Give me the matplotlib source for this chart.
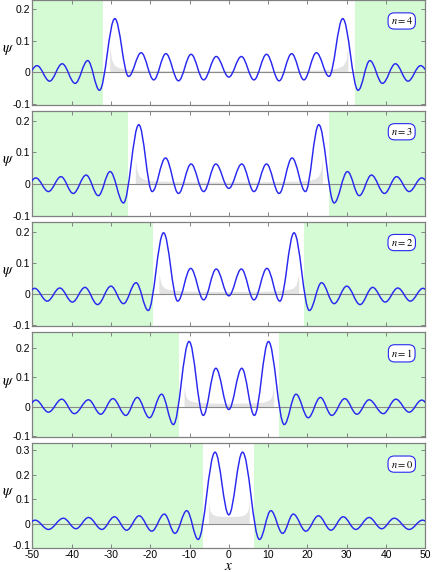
import numpy as np
import matplotlib.pyplot as plt
from matplotlib.path import Path
from matplotlib.patches import PathPatch
from matplotlib.transforms import ScaledTranslation

plt.rcParams['font.family'] = ['Liberation Sans', 'DejaVu Sans']
plt.rcParams['mathtext.fontset'] = 'stix'
plt.rcParams['axes.unicode_minus'] = False

# panels from top to bottom
n_labels = [4, 3, 2, 1, 0]
well_half = [32.0, 25.6, 19.2, 12.8, 6.5]
y_low = [-0.103, -0.100, -0.103, -0.104, -0.100]
y_high = [0.229, 0.231, 0.233, 0.252, 0.330]

# extrema of psi for x >= 0 (curve is even, mirrored for x < 0)
ext_x_n4 = [0, 3.2, 6.4, 9.6, 12.8, 16.0, 19.1, 22.3, 25.5, 29.0, 32.9, 35.9, 39.1, 42.4, 45.6, 48.8, 52.0]
ext_y_n4 = [-0.015, 0.050, -0.024, 0.057, -0.027, 0.059, -0.024, 0.062, -0.013, 0.170, -0.057, 0.037, -0.035, 0.027, -0.028, 0.021, -0.02]
ext_x_n3 = [0, 3.3, 6.4, 9.6, 12.8, 16.1, 19.5, 22.9, 26.8, 30.2, 33.2, 36.3, 39.6, 42.7, 45.9, 49.1, 52.3]
ext_y_n3 = [-0.014, 0.063, -0.024, 0.063, -0.030, 0.082, -0.024, 0.187, -0.060, 0.039, -0.037, 0.028, -0.030, 0.023, -0.024, 0.019, -0.02]
ext_x_n2 = [0, 3.2, 6.4, 9.7, 13.0, 16.6, 20.5, 23.6, 26.8, 30.0, 33.4, 36.6, 39.8, 43.0, 46.2, 49.4, 52.6]
ext_y_n2 = [-0.005, 0.081, -0.018, 0.083, -0.022, 0.197, -0.052, 0.037, -0.030, 0.026, -0.033, 0.022, -0.025, 0.020, -0.022, 0.019, -0.02]
ext_x_n1 = [0, 3.3, 6.5, 10.1, 14.1, 17.1, 20.2, 23.3, 26.2, 29.5, 32.6, 35.7, 39.3, 42.5, 45.9, 49.1, 52.3]
ext_y_n1 = [-0.010, 0.130, -0.030, 0.221, -0.061, 0.042, -0.038, 0.031, -0.030, 0.027, -0.026, 0.023, -0.024, 0.025, -0.019, 0.022, -0.02]
ext_x_n0 = [0, 3.5, 7.8, 10.7, 13.7, 16.4, 19.6, 22.8, 26.0, 29.1, 32.3, 35.7, 38.9, 42.1, 45.9, 49.3, 52.5]
ext_y_n0 = [0.036, 0.293, -0.065, 0.053, -0.040, 0.039, -0.031, 0.032, -0.027, 0.028, -0.024, 0.025, -0.021, 0.022, -0.024, 0.014, -0.02]

ext_x = [ext_x_n4, ext_x_n3, ext_x_n2, ext_x_n1, ext_x_n0]
ext_y = [ext_y_n4, ext_y_n3, ext_y_n2, ext_y_n1, ext_y_n0]

# grey density inside the well, at fractions of its edge
dens_u = [0, 0.4, 0.6, 0.75, 0.85, 0.92, 0.96, 0.985, 1.0]
dens_edge = [30.3, 23.8, 17.8, 11.4, 5.2]
dens_n4 = [0.005, 0.005, 0.006, 0.007, 0.009, 0.014, 0.022, 0.040, 0.085]
dens_n3 = [0.007, 0.007, 0.008, 0.009, 0.011, 0.016, 0.025, 0.045, 0.079]
dens_n2 = [0.009, 0.009, 0.010, 0.012, 0.015, 0.020, 0.030, 0.050, 0.067]
dens_n1 = [0.011, 0.012, 0.013, 0.015, 0.019, 0.025, 0.035, 0.055, 0.069]
dens_n0 = [0.029, 0.030, 0.032, 0.036, 0.042, 0.052, 0.065, 0.085, 0.094]
dens_h = [dens_n4, dens_n3, dens_n2, dens_n1, dens_n0]

green = '#d4fbd4'
blue = '#2828f0'
edge = '#808080'


def wave_path(xh, yh, k=0.364):
    # cubic segments between read extrema, flat tangent at each extremum
    xs = [-x for x in xh[:0:-1]] + list(xh)
    ys = list(yh[:0:-1]) + list(yh)
    verts = [(xs[0], ys[0])]
    codes = [Path.MOVETO]
    for i in range(len(xs) - 1):
        d = xs[i + 1] - xs[i]
        verts += [(xs[i] + k * d, ys[i]), (xs[i + 1] - k * d, ys[i + 1]), (xs[i + 1], ys[i + 1])]
        codes += [Path.CURVE4] * 3
    return Path(verts, codes)


fig = plt.figure(figsize=(4.32, 5.72), dpi=100)
gs = fig.add_gridspec(5, 1, left=0.0748, right=0.9845, top=1.0, bottom=0.042, hspace=0.057)

for i in range(5):
    ax = fig.add_subplot(gs[i])
    L = well_half[i]
    ax.axvspan(-50, -L, color=green, lw=0, zorder=0)
    ax.axvspan(L, 50, color=green, lw=0, zorder=0)

    u = np.array(dens_u)
    xg = np.concatenate([-dens_edge[i] * u[::-1], dens_edge[i] * u[1:]])
    yg = dens_h[i][::-1] + dens_h[i][1:]
    ax.fill_between(xg, 0, yg, color='#e3e3e3', lw=0, zorder=1)

    ax.axhline(0, color='#8a8a8a', lw=0.8, zorder=2)
    ax.add_patch(PathPatch(wave_path(ext_x[i], ext_y[i]), fill=False,
                           edgecolor=blue, lw=1.05, zorder=3))

    ax.set_xlim(-50, 50)
    ax.set_ylim(y_low[i], y_high[i])
    ax.set_xticks(np.arange(-50, 51, 10))
    if i == 4:
        ax.set_yticks([-0.1, 0, 0.1, 0.2, 0.3])
        ax.set_yticklabels(['-0.1', '0', '0.1', '0.2', '0.3'])
    else:
        ax.set_yticks([-0.1, 0, 0.1, 0.2])
        ax.set_yticklabels(['-0.1', '0', '0.1', '0.2'])
    ax.tick_params(direction='in', top=True, right=True, length=3, width=0.6,
                   color='#707070', labelsize=7.5, pad=1.5,
                   labelbottom=(i == 4))
    for s in ax.spines.values():
        s.set_color(edge)
        s.set_linewidth(0.9)

    if i == 4:
        # nudge the lowest y label up so it clears "-50"
        lab = ax.get_yticklabels()[0]
        lab.set_transform(lab.get_transform() + ScaledTranslation(0, 2.5 / 72, fig.dpi_scale_trans))

    ax.set_ylabel(r'$\psi$', rotation=0, fontsize=11, ha='center', va='center')
    ax.yaxis.set_label_coords(-0.062, 0.52)

    ax.text(0.94, 0.8, r'$n=%d$' % n_labels[i], transform=ax.transAxes,
            ha='center', va='center', fontsize=7.5, zorder=5,
            bbox=dict(boxstyle='round,pad=0.25,rounding_size=0.6',
                      fc='white', ec=blue, lw=0.8))

fig.text(0.5296, 1 - 566 / 572, r'$x$', ha='center', va='center', fontsize=11)

fig.savefig('out.png', dpi=100)
